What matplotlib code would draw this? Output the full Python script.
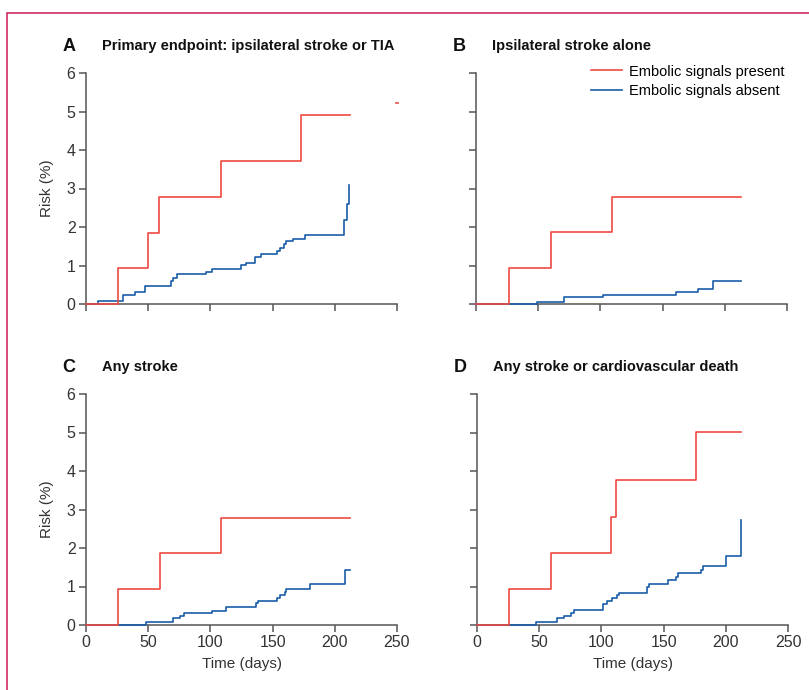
import matplotlib
matplotlib.use('Agg')
import matplotlib.pyplot as plt
from matplotlib.patches import Rectangle

plt.rcParams['font.family'] = ['Liberation Sans', 'DejaVu Sans']

RED = '#ee4a40'
BLUE = '#1a5ca8'
AXIS = '#555555'
TXT = '#333333'

# step curves: jump days, level after the jump, last follow-up day
a_red_t = [25.5, 49.6, 59.0, 108.3, 172.7]
a_red_v = [0.94, 1.84, 2.77, 3.71, 4.90]
a_red_end = 212.3
a_blue_t = [9.4, 30.0, 39.4, 47.7, 68.4, 70.2, 72.9, 96.5, 101.3, 124.9, 128.4,
            135.7, 140.8, 153.4, 155.8, 159.2, 160.9, 166.2, 175.9, 207.2, 209.9, 211.8]
a_blue_v = [0.07, 0.23, 0.31, 0.47, 0.59, 0.67, 0.78, 0.84, 0.91, 1.01, 1.07,
            1.23, 1.31, 1.37, 1.46, 1.56, 1.64, 1.70, 1.80, 2.18, 2.60, 3.08]
a_blue_end = 211.8
a_stray_x = [248.8, 250.7]
a_stray_y = [5.21, 5.21]

b_red_t = [26.5, 60.3, 109.1]
b_red_v = [0.93, 1.86, 2.79]
b_red_end = 213.0
b_blue_t = [49.0, 71.0, 102.4, 160.6, 178.6, 190.6]
b_blue_v = [0.06, 0.17, 0.23, 0.30, 0.39, 0.60]
b_blue_end = 213.0

c_red_t = [26.0, 59.5, 108.3]
c_red_v = [0.93, 1.86, 2.79]
c_red_end = 212.6
c_blue_t = [48.3, 70.0, 75.3, 78.6, 101.6, 112.6, 136.5, 138.6, 153.4, 156.0,
            159.8, 161.1, 180.4, 207.8]
c_blue_v = [0.07, 0.17, 0.23, 0.30, 0.37, 0.46, 0.57, 0.63, 0.70, 0.77,
            0.85, 0.93, 1.07, 1.43]
c_blue_end = 212.3

d_red_t = [25.5, 59.1, 108.0, 111.8, 175.8]
d_red_v = [0.93, 1.86, 2.80, 3.76, 5.01]
d_red_end = 212.0
d_blue_t = [47.8, 64.0, 69.6, 75.3, 78.2, 101.6, 104.3, 108.3, 112.6, 114.5, 136.3,
            138.2, 153.2, 160.0, 161.6, 180.1, 181.5, 200.0, 212.0]
d_blue_v = [0.07, 0.17, 0.24, 0.31, 0.38, 0.55, 0.62, 0.70, 0.77, 0.84, 1.00,
            1.07, 1.17, 1.24, 1.35, 1.43, 1.54, 1.80, 2.72]
d_blue_end = 212.0

letters = ['A', 'B', 'C', 'D']
titles = ['Primary endpoint: ipsilateral stroke or TIA', 'Ipsilateral stroke alone',
          'Any stroke', 'Any stroke or cardiovascular death']
x_ticks = [0, 50, 100, 150, 200, 250]
y_ticks = [0, 1, 2, 3, 4, 5, 6]

panels = [
    (a_red_t, a_red_v, a_red_end, a_blue_t, a_blue_v, a_blue_end),
    (b_red_t, b_red_v, b_red_end, b_blue_t, b_blue_v, b_blue_end),
    (c_red_t, c_red_v, c_red_end, c_blue_t, c_blue_v, c_blue_end),
    (d_red_t, d_red_v, d_red_end, d_blue_t, d_blue_v, d_blue_end),
]

W, H = 809, 690
fig = plt.figure(figsize=(W / 100, H / 100), dpi=100)

# crimson frame around the figure
fig.patches.append(Rectangle((7.5 / W, -0.1), 1.2, 1 - 12.5 / H + 0.1, transform=fig.transFigure,
                             fill=False, edgecolor='#cc1a55', linewidth=1.1))

# axes boxes in pixels: left, right, bottom (y=0), top (y=6)
boxes = [(86, 397, 304, 73), (476, 787, 304, 73), (86, 397, 625, 394), (477, 788, 625, 394)]


def steps(t, v, end):
    return [0] + list(t) + [end], [0] + list(v) + [v[-1]]


for i, (rt, rv, rend, bt, bv, bend) in enumerate(panels):
    l, r, b, t = boxes[i]
    ax = fig.add_axes([l / W, 1 - b / H, (r - l) / W, (b - t) / H])
    bx, by = steps(bt, bv, bend)
    rx, ry = steps(rt, rv, rend)
    ax.step(bx, by, where='post', color=BLUE, lw=1.2, zorder=3, clip_on=False,
            label='Embolic signals absent')
    ax.step(rx, ry, where='post', color=RED, lw=1.2, zorder=4, clip_on=False,
            label='Embolic signals present')
    if i == 0:
        ax.plot(a_stray_x, a_stray_y, color=RED, lw=1.2, clip_on=False)

    ax.set_xlim(0, 250)
    ax.set_ylim(0, 6)
    ax.set_xticks(x_ticks)
    ax.set_yticks(y_ticks)
    for s in ['top', 'right']:
        ax.spines[s].set_visible(False)
    for s in ['left', 'bottom']:
        ax.spines[s].set_color(AXIS)
        ax.spines[s].set_linewidth(1.1)
    ax.tick_params(direction='out', length=5, width=1.1, color=AXIS,
                   labelsize=11.5, labelcolor=TXT, pad=2.5)
    if i < 2:
        ax.set_xticklabels([])
    else:
        ax.set_xlabel('Time (days)', fontsize=11, color=TXT, labelpad=5)
    if i % 2 == 1:
        ax.set_yticklabels([])
    else:
        ax.set_ylabel('Risk (%)', fontsize=11, color=TXT, labelpad=9)

    ax.text(-0.075, 1.115, letters[i], transform=ax.transAxes, fontsize=13,
            fontweight='bold', ha='left', va='center', color='#111111')
    ax.text(0.052, 1.115, titles[i], transform=ax.transAxes, fontsize=10.5,
            fontweight='bold', ha='left', va='center', color='#111111')

    if i == 1:
        h, lab = ax.get_legend_handles_labels()
        ax.legend(h[::-1], lab[::-1], loc='upper right', bbox_to_anchor=(1.012, 1.062),
                  frameon=False, fontsize=10.5, handlelength=2.1, handletextpad=0.5,
                  labelspacing=0.35, borderaxespad=0)

fig.savefig('out.png', dpi=100)
